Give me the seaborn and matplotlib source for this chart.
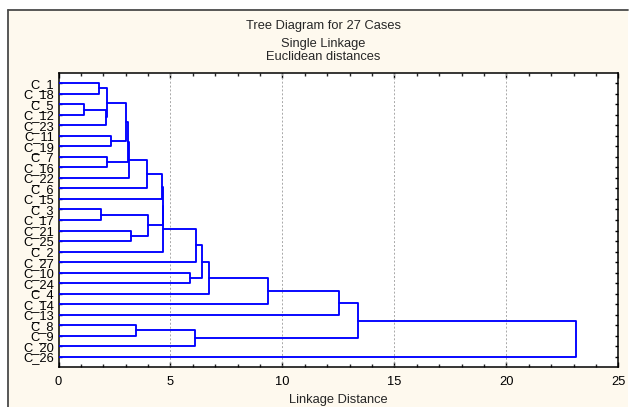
import matplotlib

matplotlib.use("Agg")
import matplotlib.pyplot as plt
import numpy as np
import pandas as pd
import seaborn as sns
from matplotlib.lines import Line2D
from matplotlib.patches import Rectangle
from matplotlib.ticker import MultipleLocator

# leaf order, top to bottom
leaves = [
    "C_1", "C_18", "C_5", "C_12", "C_23", "C_11", "C_19", "C_7", "C_16",
    "C_22", "C_6", "C_15", "C_3", "C_17", "C_21", "C_25", "C_2", "C_27",
    "C_10", "C_24", "C_4", "C_14", "C_13", "C_8", "C_9", "C_20", "C_26",
]

# merges: "#k" refers to the cluster made by merge k
merge_left = [
    "C_5", "C_1", "C_3", "#0", "#1", "C_7", "C_11", "#4", "C_21", "#7",
    "#9", "C_8", "#10", "#2", "#12", "#14", "#15", "C_10", "#11", "#16",
    "#19", "#20", "#21", "#22", "#23", "#24",
]
merge_right = [
    "C_12", "C_18", "C_17", "C_23", "#3", "C_16", "C_19", "#6", "C_25", "#5",
    "C_22", "C_9", "C_6", "#8", "C_15", "#13", "C_2", "C_24", "C_20", "C_27",
    "#17", "C_4", "C_14", "C_13", "#18", "C_26",
]
merge_height = [
    1.12, 1.79, 1.91, 2.13, 2.16, 2.16, 2.33, 3.03, 3.24, 3.11,
    3.14, 3.44, 3.94, 3.98, 4.64, 4.66, 4.68, 5.86, 6.11, 6.15,
    6.41, 6.71, 9.35, 12.51, 13.39, 23.11,
]

title_lines = ["Tree Diagram for 27 Cases", "Single Linkage", "Euclidean distances"]
x_label = "Linkage Distance"

# build bracket segments
pos = {name: (0.0, i + 1.0) for i, name in enumerate(leaves)}
rows = []
for k, (a, b, h) in enumerate(zip(merge_left, merge_right, merge_height)):
    xa, ya = pos[a]
    xb, yb = pos[b]
    for px, py in [(xa, ya), (h, ya), (h, yb), (xb, yb)]:
        rows.append({"seg": k, "x": px, "y": py})
    pos["#%d" % k] = (h, (ya + yb) / 2)
segs = pd.DataFrame(rows)

sns.set_style("ticks")
plt.rcParams["font.family"] = ["Liberation Sans", "DejaVu Sans"]

W, H = 631, 407
fig = plt.figure(figsize=(W / 100, H / 100), dpi=100, facecolor="white")

cream = "#fef9ee"
fig.patches.append(
    Rectangle((7.5 / W, 0), (628 - 7.5) / W, (H - 10) / H, transform=fig.transFigure,
              facecolor=cream, edgecolor="none", zorder=-10)
)
fig.add_artist(Line2D([7.5 / W, 7.5 / W], [0, 1 - 10 / H], color="#4a4a4a", lw=1.3))
fig.add_artist(Line2D([7.5 / W, 628 / W], [1 - 10 / H, 1 - 10 / H], color="#4a4a4a", lw=1.3))

ax = fig.add_axes([58.5 / W, (H - 367.3) / H, (618.3 - 58.5) / W, (367.3 - 72.7) / H])
ax.set_facecolor("white")

sns.lineplot(data=segs, x="x", y="y", units="seg", estimator=None, sort=False,
             color="#0000ff", lw=1.35, ax=ax, legend=False, zorder=3)

ax.set_xlim(0, 25)
ax.set_ylim(28, 0)
ax.xaxis.set_major_locator(MultipleLocator(5))
ax.xaxis.set_minor_locator(MultipleLocator(1))
ax.set_yticks(np.arange(1, len(leaves) + 1))
ax.set_yticklabels(leaves)

for x in [5, 10, 15, 20]:
    ax.axvline(x, color="#a8a8a8", lw=0.7, ls=(0, (2, 2)), zorder=1)

for s in ax.spines.values():
    s.set_visible(True)
    s.set_color("black")
    s.set_linewidth(1.1)

ax.tick_params(axis="x", which="major", direction="in", top=True, bottom=True,
               length=3.5, width=1, labelsize=9.3, pad=6, colors="black")
ax.tick_params(axis="x", which="minor", direction="in", top=True, bottom=True,
               length=2, width=1)
ax.tick_params(axis="y", which="major", direction="in", left=True, right=True,
               length=2, width=1, labelsize=9.3, pad=3, colors="black")

ax.set_xlabel(x_label, fontsize=9.3, labelpad=4.5)
ax.set_ylabel("")

for txt, yy in zip(title_lines, [26, 44, 57]):
    fig.text(323 / W, 1 - yy / H, txt, ha="center", va="center", fontsize=9.3)

fig.savefig("out.png", dpi=100, facecolor=fig.get_facecolor())
